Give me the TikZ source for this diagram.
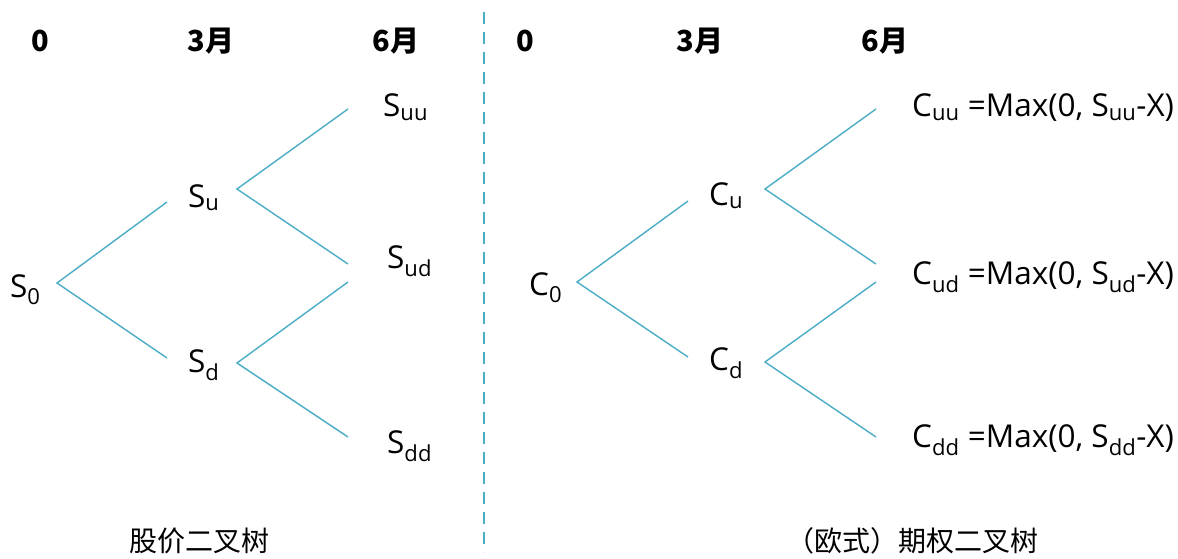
\documentclass[tikz,border=0pt]{standalone}
\usepackage{fontspec}
\setmainfont{Open Sans}
\newfontfamily\cjk{Noto Sans CJK SC}
\definecolor{teal}{RGB}{75,172,198}
\begin{document}
\begin{tikzpicture}[x=1pt,y=-1pt,
  branch/.style={draw=teal,line width=1.4pt},
  sep/.style={draw=teal,line width=2.6pt,dash pattern=on 12pt off 8pt},
  lbl/.style={anchor=base west,inner sep=0pt,font=\fontsize{31.5}{31.5}\selectfont},
  hdr/.style={anchor=base,inner sep=0pt,font=\cjk\bfseries\fontsize{29}{29}\selectfont},
  captext/.style={anchor=base,inner sep=0pt,font=\cjk\fontsize{28}{28}\selectfont}]
\useasboundingbox (0,0) rectangle (1178,559);
% headers
\node[hdr] (h0) at (40,52) {0};
\node[hdr] (h3) at (211,52) {3月};
\node[hdr] (h6) at (396,52) {6月};
\node[hdr] (k0) at (525,52) {0};
\node[hdr] (k3) at (700,52) {3月};
\node[hdr] (k6) at (885,52) {6月};
% separator
\coordinate (septop) at (484,12);
\coordinate (sepbot) at (484,552);
\draw[sep] (septop) -- (sepbot);
% left tree labels
\node[lbl] (s0) at (10,297) {S\textsubscript{0}};
\node[lbl] (su) at (188,207) {S\textsubscript{u}};
\node[lbl] (sd) at (188,372) {S\textsubscript{d}};
\node[lbl] (suu) at (383,117) {S\textsubscript{uu}};
\node[lbl] (sud) at (387,268) {S\textsubscript{ud}};
\node[lbl] (sdd) at (387,453) {S\textsubscript{dd}};
% left tree lines
\coordinate (a0) at (57,283);
\coordinate (a0u) at (167,202);
\coordinate (a0d) at (167,358);
\coordinate (au) at (237,189);
\coordinate (auu) at (348,109);
\coordinate (aud) at (348,264);
\coordinate (ad) at (237,363);
\coordinate (adu) at (348,282);
\coordinate (add) at (348,437);
\draw[branch] (a0u) -- (a0) -- (a0d);
\draw[branch] (auu) -- (au) -- (aud);
\draw[branch] (adu) -- (ad) -- (add);
% right tree labels
\node[lbl] (c0) at (529,295) {C\textsubscript{0}};
\node[lbl] (cu) at (709,205) {C\textsubscript{u}};
\node[lbl] (cd) at (709,370) {C\textsubscript{d}};
\node[lbl] (cuu) at (912,117) {C\textsubscript{uu} =Max(0, S\textsubscript{uu}-X)};
\node[lbl] (cud) at (912,284) {C\textsubscript{ud} =Max(0, S\textsubscript{ud}-X)};
\node[lbl] (cdd) at (912,447) {C\textsubscript{dd} =Max(0, S\textsubscript{dd}-X)};
% right tree lines
\coordinate (b0) at (577,282);
\coordinate (b0u) at (688,201);
\coordinate (b0d) at (688,357);
\coordinate (bu) at (765,189);
\coordinate (buu) at (876,109);
\coordinate (bud) at (876,264);
\coordinate (bd) at (765,362);
\coordinate (bdu) at (876,282);
\coordinate (bdd) at (876,437);
\draw[branch] (b0u) -- (b0) -- (b0d);
\draw[branch] (buu) -- (bu) -- (bud);
\draw[branch] (bdu) -- (bd) -- (bdd);
% captions
\node[captext] (capl) at (199,551) {股价二叉树};
\node[captext] (capr) at (912,551) {（欧式）期权二叉树};
\end{tikzpicture}
\end{document}
